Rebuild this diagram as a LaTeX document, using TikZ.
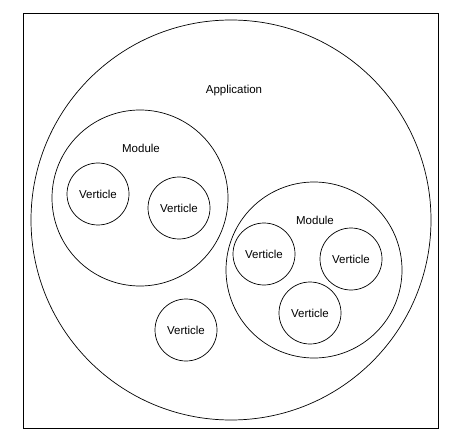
\documentclass[tikz,border=0pt]{standalone}
\usepackage{fontspec}
\setmainfont{Liberation Sans}
\begin{document}
\begin{tikzpicture}[x=1pt,y=-1pt,
    ring/.style={draw, circle, line width=0.7pt, inner sep=0pt},
    vert/.style={ring, minimum size=62pt, font=\fontsize{11.5}{13}\selectfont},
    modring/.style={ring, minimum size=176pt},
    lbl/.style={font=\fontsize{11.5}{13}\selectfont}]
    \useasboundingbox (0,0) rectangle (465,446);
    \draw[line width=0.9pt] (23,13) rectangle (438,428);
    \node[ring, minimum size=400pt] (app) at (231,220) {};
    \node[lbl] (applbl) at (234,91) {Application};
    \node[modring] (modA) at (140,198) {};
    \node[lbl] (modAlbl) at (141,148) {Module};
    \node[vert] (vA1) at (98,194) {Verticle};
    \node[vert] (vA2) at (179,208) {Verticle};
    \node[modring] (modB) at (314,270) {};
    \node[lbl] (modBlbl) at (315,220) {Module};
    \node[vert] (vB1) at (264,254) {Verticle};
    \node[vert] (vB2) at (351,259) {Verticle};
    \node[vert] (vB3) at (310,313) {Verticle};
    \node[vert] (vlone) at (186,330) {Verticle};
\end{tikzpicture}
\end{document}
